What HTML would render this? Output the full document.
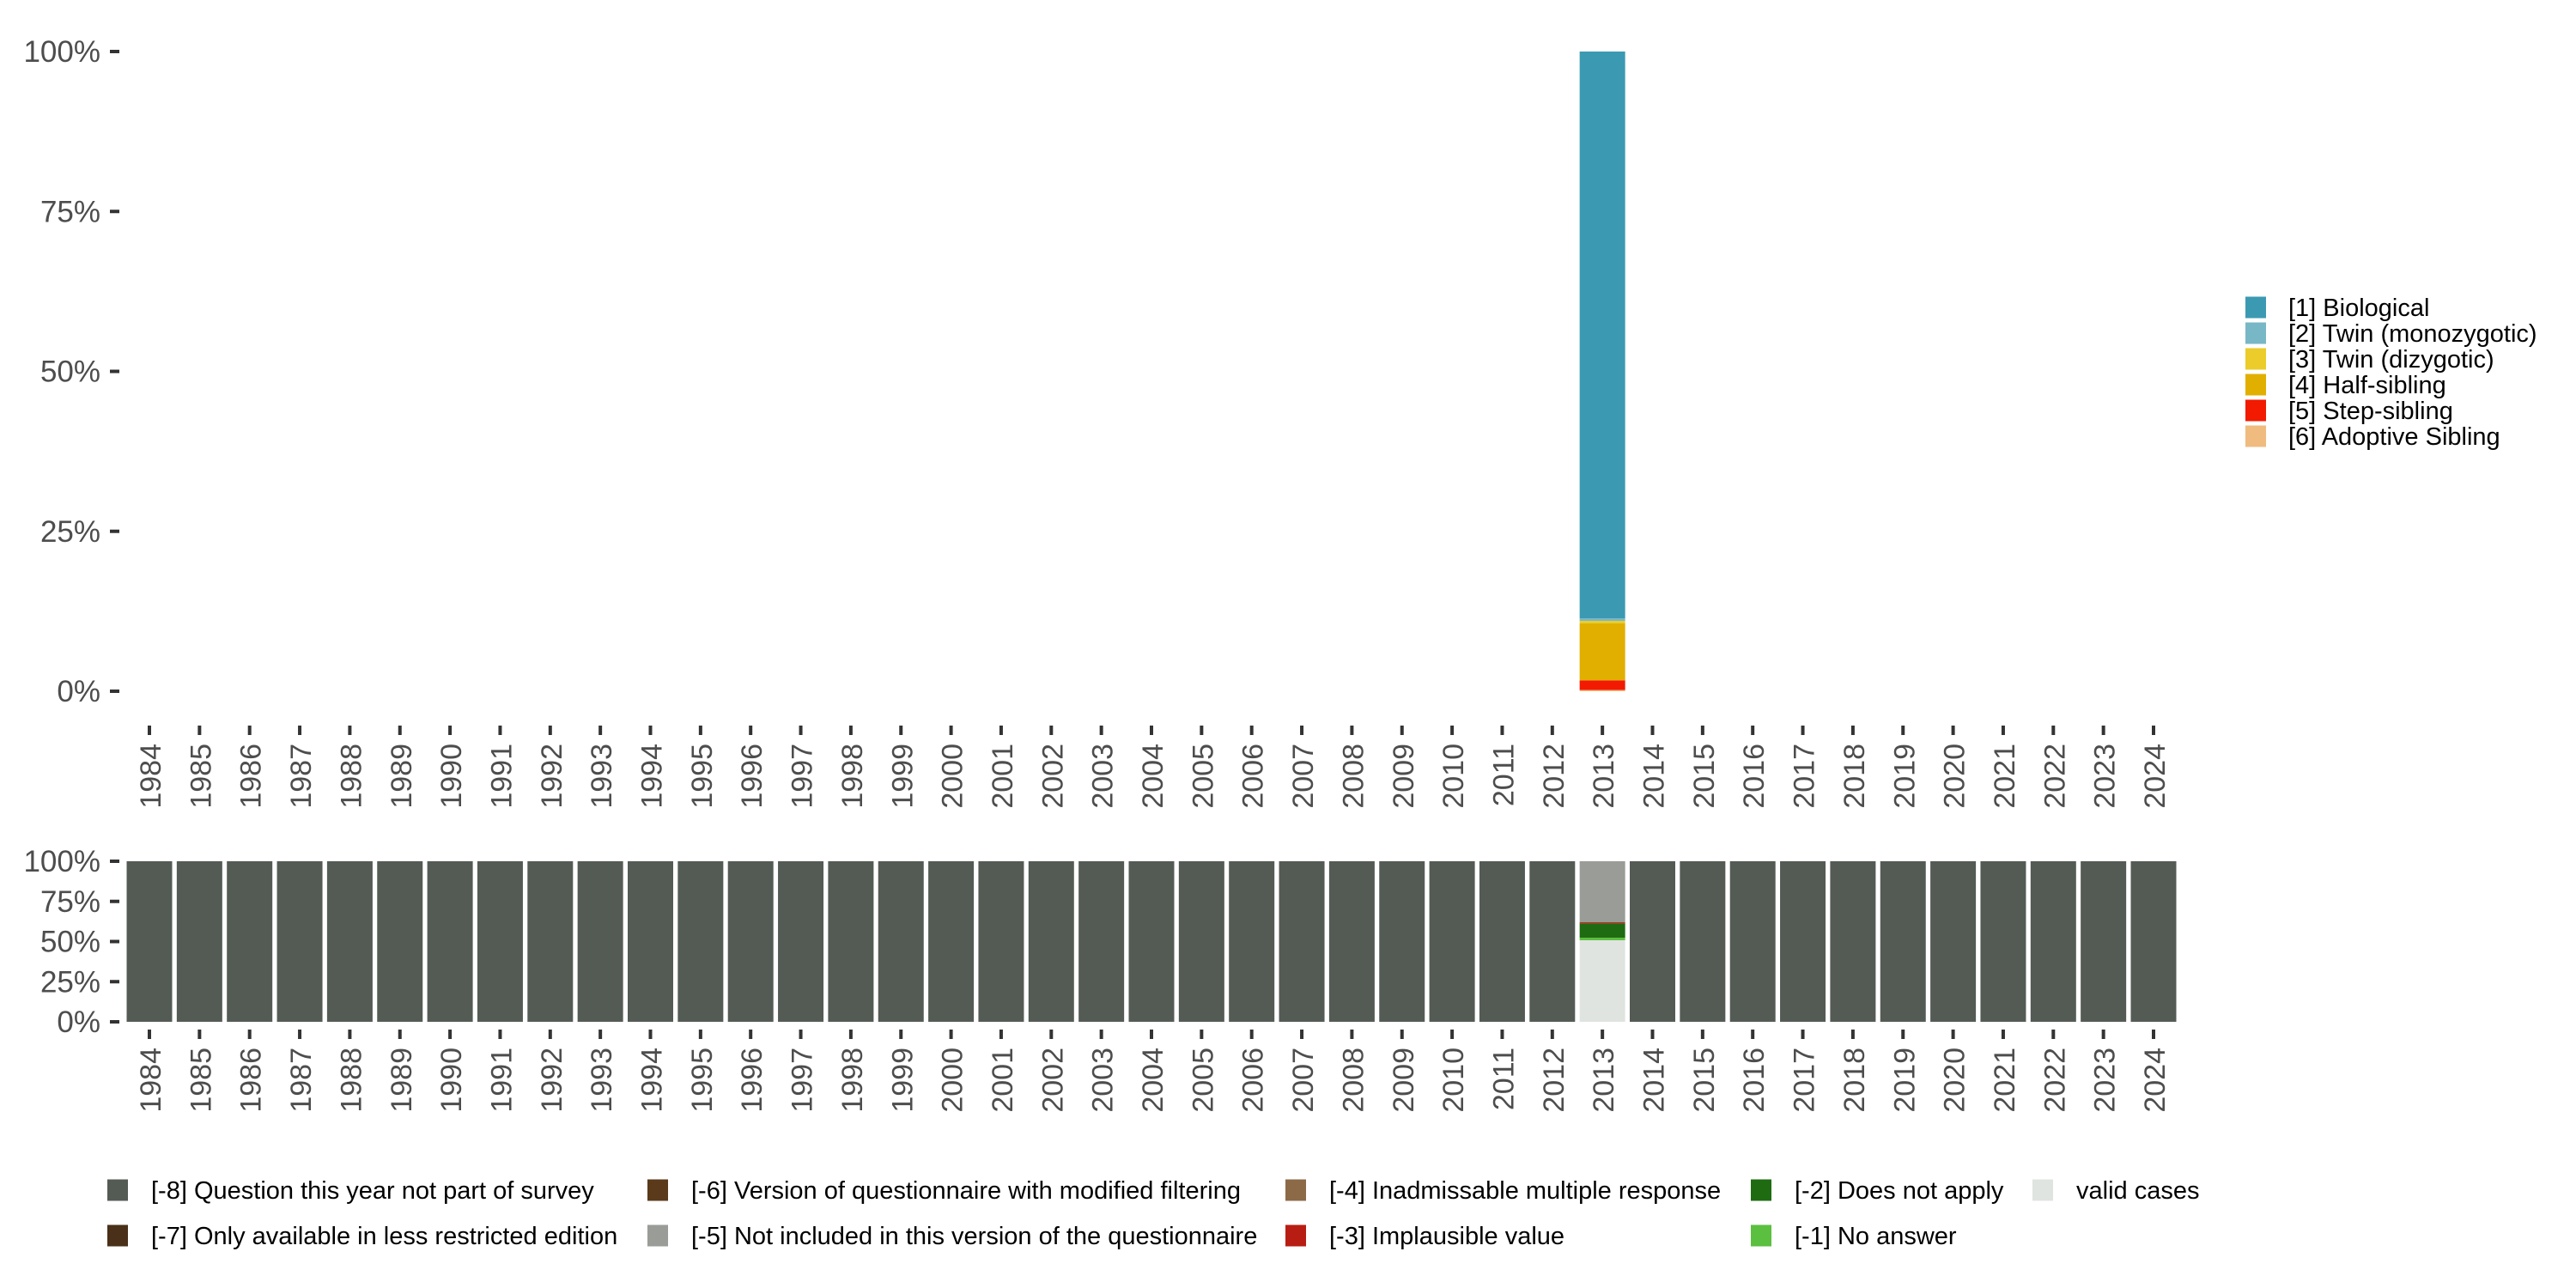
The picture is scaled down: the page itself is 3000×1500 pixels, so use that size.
<!DOCTYPE html>
<html><head><meta charset="utf-8"><style>
html,body{margin:0;padding:0;background:#fff;}
svg{display:block;font-family:"Liberation Sans",sans-serif;}
</style></head><body>
<svg id="chart" width="3000" height="1500" viewBox="0 0 3000 1500" xmlns="http://www.w3.org/2000/svg">
<rect width="3000" height="1500" fill="#fff"/>
<g id="top"></g>
<g id="bottom"></g>
<g id="legR"></g>
<g id="legB"></g>
</svg>
<script>
const years = [];
for (let y = 1984; y <= 2024; y++) years.push(y);
const yTicks = [0, 25, 50, 75, 100];
const yTickLabels = ["0%", "25%", "50%", "75%", "100%"];
// top chart: only 2013 has data
const topCats = ["[1] Biological","[2] Twin (monozygotic)","[3] Twin (dizygotic)","[4] Half-sibling","[5] Step-sibling","[6] Adoptive Sibling"];
const topColors = ["#3b9ab2","#78b7c5","#ebcc2a","#e1af00","#f21a00","#f0bb7f"];
const topYear = 2013;
const topValues = [88.6, 0.4, 0.4, 8.9, 1.5, 0.2];
// bottom chart
const botCats = ["[-8] Question this year not part of survey","[-7] Only available in less restricted edition","[-6] Version of questionnaire with modified filtering","[-5] Not included in this version of the questionnaire","[-4] Inadmissable multiple response","[-3] Implausible value","[-2] Does not apply","[-1] No answer","valid cases"];
const botColors = ["#545b55","#4a3018","#5a3a1a","#9a9c97","#8c6a48","#b81d13","#1f6b12","#5bbf40","#e0e4e0"];
const bot2013 = [0, 0, 0, 38.0, 0, 0.7, 8.9, 1.6, 50.8];
const botOther = [100, 0, 0, 0, 0, 0, 0, 0, 0];

const NS = "http://www.w3.org/2000/svg";
function mk(tag, attrs, parent){const e=document.createElementNS(NS,tag);for(const k in attrs)e.setAttribute(k,attrs[k]);parent.appendChild(e);return e;}
const xPos = y => 174 + (y - 1984) * 58.35;
const barW = 53;

function axes(g, y0, y1, tickY0, tickY1, labY, fs){
  const sy = v => y0 - (v/100)*(y0-y1);
  yTicks.forEach((t,i)=>{
    const r = mk("rect",{x:128,y:sy(t)-2,width:11,height:4,fill:"#333"},g);
    
    
    const tx = mk("text",{x:117,y:sy(t)+12,"text-anchor":"end","font-size":35,fill:"#4d4d4d"},g);
    tx.textContent = yTickLabels[i];
    
    
  });
  years.forEach(yr=>{
    const x = xPos(yr);
    const r = mk("rect",{x:x-2,y:tickY0,width:4,height:tickY1-tickY0,fill:"#333"},g);
    
    
    const tx = mk("text",{x:0,y:0,"text-anchor":"end","font-size":fs,fill:"#4d4d4d",transform:`translate(${x+13},${labY}) rotate(-90)`},g);
    tx.textContent = yr;
    
    
  });
  return sy;
}

// top chart
const gT = document.getElementById("top");
const syT = axes(gT, 805, 60, 845, 856, 866, 34);
{
  let acc = 0;
  for (let i = topValues.length-1; i >= 0; i--) {
    const v = topValues[i];
    const r = mk("rect",{x:xPos(topYear)-barW/2,y:syT(acc+v),width:barW,height:syT(acc)-syT(acc+v),fill:topColors[i]},gT);
    
    
    acc += v;
  }
}

// bottom chart
const gB = document.getElementById("bottom");
const syB = axes(gB, 1190, 1003, 1199, 1210, 1220, 34);
years.forEach(yr=>{
  const vals = yr === 2013 ? bot2013 : botOther;
  let acc = 0;
  for (let i = vals.length-1; i >= 0; i--) {
    const v = vals[i];
    if (v <= 0) continue;
    const r = mk("rect",{x:xPos(yr)-barW/2,y:syB(acc+v),width:barW,height:syB(acc)-syB(acc+v),fill:botColors[i]},gB);
    
    
    acc += v;
  }
});

// right legend
const gR = document.getElementById("legR");
topCats.forEach((c,i)=>{
  const cy = 358 + i*30;
  const r = mk("rect",{x:2615,y:cy-12.5,width:24,height:25,fill:topColors[i]},gR);
  
  
  const t = mk("text",{x:2665,y:cy+10,"font-size":29,fill:"#000"},gR);
  t.textContent = c;
  
  
});

// bottom legend
const gL = document.getElementById("legB");
const colX = [125, 754, 1497, 2039, 2367];
botCats.forEach((c,i)=>{
  const col = Math.floor(i/2), row = i%2;
  const cx = colX[col], cy = row ? 1439 : 1386;
  const r = mk("rect",{x:cx,y:cy-12.5,width:24,height:25,fill:botColors[i]},gL);
  
  
  const t = mk("text",{x:cx+51,y:cy+10,"font-size":29,fill:"#000"},gL);
  t.textContent = c;
  
  
});
</script>
</body></html>
